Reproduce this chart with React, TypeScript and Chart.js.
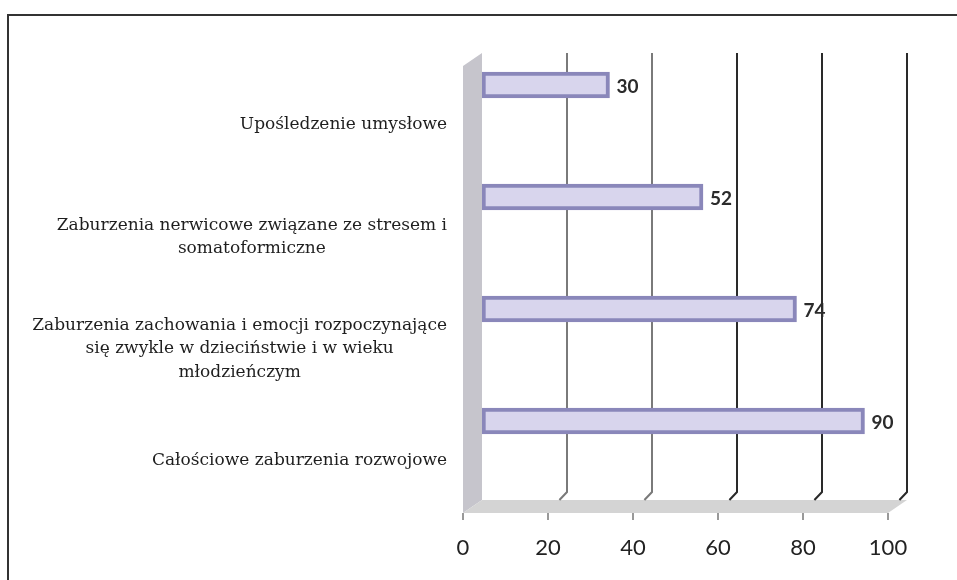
import React, { useEffect, useRef } from "react";
import { Chart, registerables } from "chart.js";

Chart.register(...registerables);

const categories: string[][] = [
  ["Upośledzenie umysłowe"],
  ["Zaburzenia nerwicowe związane ze stresem i", "somatoformiczne"],
  ["Zaburzenia zachowania i emocji rozpoczynające", "się zwykle w dzieciństwie i w wieku", "młodzieńczym"],
  ["Całościowe zaburzenia rozwojowe"],
];
const values: number[] = [30, 52, 74, 90];
const xMin = 0;
const xMax = 100;
const xStep = 20;

const decor = {
  id: "decor",
  beforeDatasetsDraw(chart: any) {
    const { ctx } = chart;
    const x = chart.scales.x;
    ctx.save();
    // outer frame
    ctx.strokeStyle = "#333";
    ctx.lineWidth = 2;
    ctx.beginPath();
    ctx.moveTo(8, 590);
    ctx.lineTo(8, 15);
    ctx.lineTo(960, 15);
    ctx.stroke();

    const backTop = 53;
    const backBottom = 500;
    const depthX = -19;
    const depthY = 13;
    const x0 = x.getPixelForValue(xMin);
    const x1 = x.getPixelForValue(xMax);
    // left wall
    ctx.fillStyle = "#c6c5cc";
    ctx.beginPath();
    ctx.moveTo(x0, backTop);
    ctx.lineTo(x0, backBottom);
    ctx.lineTo(x0 + depthX, backBottom + depthY);
    ctx.lineTo(x0 + depthX, backTop + depthY);
    ctx.closePath();
    ctx.fill();
    // floor
    ctx.fillStyle = "#d4d4d4";
    ctx.beginPath();
    ctx.moveTo(x0, backBottom);
    ctx.lineTo(x1, backBottom);
    ctx.lineTo(x1 + depthX, backBottom + depthY);
    ctx.lineTo(x0 + depthX, backBottom + depthY);
    ctx.closePath();
    ctx.fill();
    // back gridlines
    for (let v = xMin + xStep; v <= xMax; v += xStep) {
      const px = x.getPixelForValue(v);
      ctx.strokeStyle = v <= 40 ? "#7a7a7a" : "#2a2a2a";
      ctx.lineWidth = 2;
      ctx.beginPath();
      ctx.moveTo(px, backTop);
      ctx.lineTo(px, backBottom - 8);
      ctx.lineTo(px + depthX * 0.4, backBottom);
      ctx.stroke();
    }
    // front tick marks
    ctx.strokeStyle = "#777";
    ctx.lineWidth = 1.5;
    for (let v = xMin; v <= xMax; v += xStep) {
      const px = x.getPixelForValue(v) + depthX;
      ctx.beginPath();
      ctx.moveTo(px, backBottom + depthY);
      ctx.lineTo(px, backBottom + depthY + 7);
      ctx.stroke();
    }
    ctx.restore();
  },
  afterDatasetsDraw(chart: any) {
    const { ctx } = chart;
    const meta = chart.getDatasetMeta(0);
    const y = chart.scales.y;
    ctx.save();
    // value labels
    ctx.fillStyle = "#2b2b2b";
    ctx.font = "bold 19px Lato";
    ctx.textAlign = "left";
    ctx.textBaseline = "middle";
    meta.data.forEach((bar: any, i: number) => {
      ctx.fillText(String(values[i]), bar.x + 7, bar.y + 2);
    });
    // category labels: block right-aligned, lines centered in block
    ctx.font = "17px 'DejaVu Serif'";
    ctx.fillStyle = "#1e1e1e";
    ctx.textAlign = "center";
    const right = 447;
    const lineH = 23.5;
    categories.forEach((lines, i) => {
      const cy = y.getPixelForValue(i) + 40;
      const w = Math.max(...lines.map((l) => ctx.measureText(l).width));
      const cx = right - w / 2;
      const startY = cy - ((lines.length - 1) * lineH) / 2;
      lines.forEach((l, j) => ctx.fillText(l, cx, startY + j * lineH));
    });
    ctx.restore();
  },
};

export default function App() {
  const ref = useRef<HTMLCanvasElement | null>(null);
  useEffect(() => {
    if (!ref.current) return;
    const chart = new Chart(ref.current, {
      type: "bar",
      data: {
        labels: categories.map((c) => c.join(" ")),
        datasets: [
          {
            data: values,
            backgroundColor: "#d8d5ed",
            borderColor: "#8a87ba",
            borderWidth: 4,
            borderSkipped: false,
            barThickness: 26,
          },
        ],
      },
      options: {
        indexAxis: "y",
        animation: false,
        responsive: false,
        maintainAspectRatio: false,
        layout: { padding: { left: 482, right: 50, top: 29, bottom: 19 } },
        plugins: { legend: { display: false }, tooltip: { enabled: false } },
        scales: {
          y: { display: false, offset: true, grid: { display: false } },
          x: {
            min: xMin,
            max: xMax,
            grid: { display: false, drawTicks: false },
            border: { display: false },
            afterFit: (s: any) => {
              s.height = 84;
              s.paddingLeft = 0;
              s.paddingRight = 0;
            },
            ticks: {
              stepSize: xStep,
              padding: 58,
              labelOffset: -19,
              color: "#222",
              font: { family: "Lato", size: 22 },
            },
          },
        },
      },
      plugins: [decor],
    });
    return () => chart.destroy();
  }, []);
  return (
    <div style={{ position: "fixed", left: 0, top: 0, width: 957, height: 580, background: "#fff" }}>
      <canvas ref={ref} width={957} height={580} style={{ width: 957, height: 580 }} />
    </div>
  );
}
